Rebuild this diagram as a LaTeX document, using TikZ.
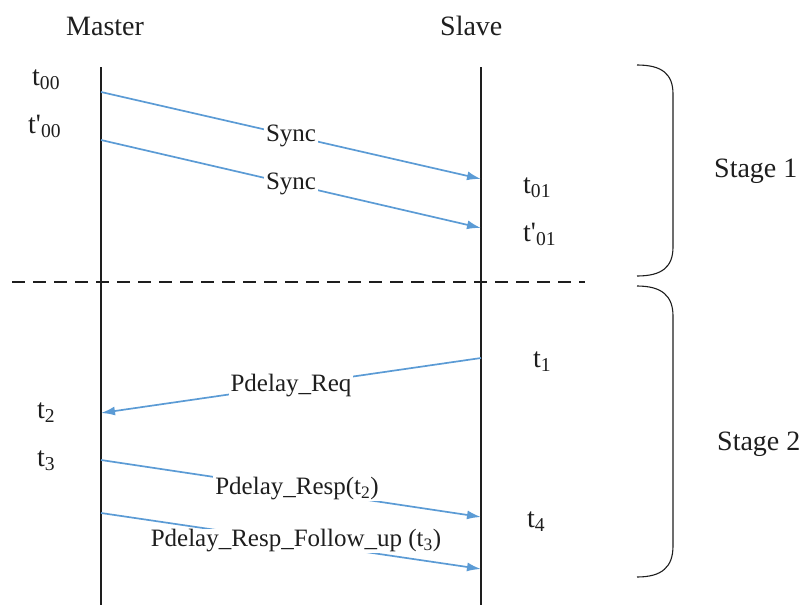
\documentclass[tikz,border=0pt]{standalone}
\usepackage{fontspec}
\setmainfont{Liberation Serif}
\newfontfamily\plainrm{Liberation Serif}
\newcommand{\prm}{{\plainrm'}}
\usetikzlibrary{arrows.meta}
\definecolor{msgblue}{HTML}{5B9BD5}
\definecolor{ink}{HTML}{1E1E1E}
\begin{document}
\begin{tikzpicture}[x=1pt,y=-1pt,
  every node/.style={font=\fontsize{28}{32}\selectfont, text=ink, inner sep=0pt},
  lifeline/.style={draw=ink, line width=2.4pt},
  msg/.style={draw=msgblue, line width=1.7pt, -{Latex[length=14pt,width=9pt]}},
  msglabel/.style={fill=white, inner xsep=2pt, inner ysep=1pt, midway,
    font=\fontsize{25}{29}\selectfont},
  stagebrace/.style={draw=ink, line width=1.1pt},
  divider/.style={draw=ink, line width=1.4pt, dash pattern=on 13pt off 8pt}]
\useasboundingbox (0,0) rectangle (806,605);

% lifelines
\coordinate (mtop) at (101,67);
\coordinate (mbot) at (101,605);
\coordinate (stop) at (481,67);
\coordinate (sbot) at (481,605);
\draw[lifeline] (mtop) -- (mbot);
\draw[lifeline] (stop) -- (sbot);

% headers
\node[anchor=base west] (master) at (66,35) {Master};
\node[anchor=base west] (slave) at (440,35) {Slave};

% stage separator
\coordinate (dl) at (12,282);
\coordinate (dr) at (585,282);
\draw[divider] (dl) -- (dr);

% message end points
\coordinate (s1a) at (101,92);
\coordinate (s1b) at (481,179);
\coordinate (s2a) at (101,140);
\coordinate (s2b) at (481,228);
\coordinate (rqa) at (481,358);
\coordinate (rqb) at (101,413);
\coordinate (rpa) at (101,460);
\coordinate (rpb) at (481,517);
\coordinate (fua) at (101,513);
\coordinate (fub) at (481,569);

% messages
\draw[msg] (s1a) -- node[msglabel] (sync1) {Sync} (s1b);
\draw[msg] (s2a) -- node[msglabel] (sync2) {Sync} (s2b);
\draw[msg] (rqa) -- node[msglabel] (req) {Pdelay\_Req} (rqb);
\draw[msg] (rpa) -- node[msglabel, xshift=6pt] (resp) {Pdelay\_Resp(t\textsubscript{2})} (rpb);
\draw[msg] (fua) -- node[msglabel, xshift=5pt] (follow) {Pdelay\_Resp\_Follow\_up (t\textsubscript{3})} (fub);

% timestamps
\node[anchor=base west] (t00) at (32,85) {t\textsubscript{00}};
\node[anchor=base west] (tp00) at (28,133) {t\prm\textsubscript{00}};
\node[anchor=base west] (t01) at (523,193) {t\textsubscript{01}};
\node[anchor=base west] (tp01) at (523,241) {t\prm\textsubscript{01}};
\node[anchor=base west] (t1) at (533,367) {t\textsubscript{1}};
\node[anchor=base west] (t2) at (37,418) {t\textsubscript{2}};
\node[anchor=base west] (t3) at (37,466) {t\textsubscript{3}};
\node[anchor=base west] (t4) at (527,527) {t\textsubscript{4}};

% stage braces
\draw[stagebrace] (637,65) .. controls (662,65) and (673,74) .. (673,94)
  -- (673,247) .. controls (673,267) and (662,276) .. (637,276);
\draw[stagebrace] (637,286) .. controls (662,286) and (673,296) .. (673,316)
  -- (673,546) .. controls (673,567) and (662,577) .. (637,577);
\node[anchor=base west] (stage1) at (714,177) {Stage 1};
\node[anchor=base west] (stage2) at (717,450) {Stage 2};
\end{tikzpicture}
\end{document}
